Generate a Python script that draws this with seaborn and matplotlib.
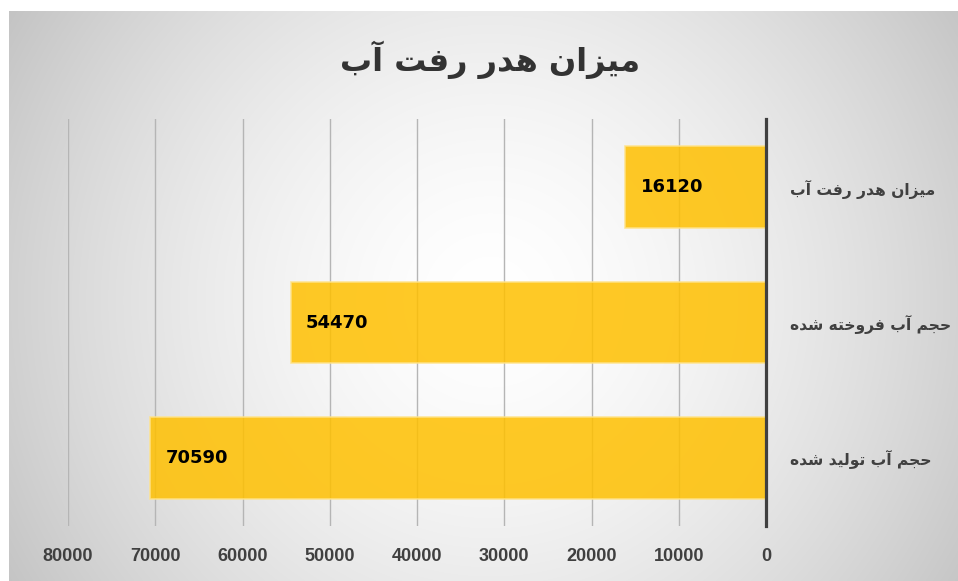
import numpy as np
import pandas as pd
import matplotlib
matplotlib.use("Agg")
import matplotlib.pyplot as plt
import seaborn as sns

# ---- data ----
title_text = "میزان هدر رفت آب"
categories = ["میزان هدر رفت آب", "حجم آب فروخته شده", "حجم آب تولید شده"]
values = [16120, 54470, 70590]
x_ticks = [0, 10000, 20000, 30000, 40000, 50000, 60000, 70000, 80000]

# ---- minimal Persian shaping (matplotlib has no complex text layout) ----
FORMS = {
    '\u0627': ('\uFE8D', '\uFE8E', None, None),
    '\u0622': ('\uFE81', '\uFE82', None, None),
    '\u0628': ('\uFE8F', '\uFE90', '\uFE91', '\uFE92'),
    '\u062A': ('\uFE95', '\uFE96', '\uFE97', '\uFE98'),
    '\u062C': ('\uFE9D', '\uFE9E', '\uFE9F', '\uFEA0'),
    '\u062D': ('\uFEA1', '\uFEA2', '\uFEA3', '\uFEA4'),
    '\u062E': ('\uFEA5', '\uFEA6', '\uFEA7', '\uFEA8'),
    '\u062F': ('\uFEA9', '\uFEAA', None, None),
    '\u0631': ('\uFEAD', '\uFEAE', None, None),
    '\u0632': ('\uFEAF', '\uFEB0', None, None),
    '\u0634': ('\uFEB5', '\uFEB6', '\uFEB7', '\uFEB8'),
    '\u0641': ('\uFED1', '\uFED2', '\uFED3', '\uFED4'),
    '\u0644': ('\uFEDD', '\uFEDE', '\uFEDF', '\uFEE0'),
    '\u0645': ('\uFEE1', '\uFEE2', '\uFEE3', '\uFEE4'),
    '\u0646': ('\uFEE5', '\uFEE6', '\uFEE7', '\uFEE8'),
    '\u0647': ('\uFEE9', '\uFEEA', '\uFEEB', '\uFEEC'),
    '\u0648': ('\uFEED', '\uFEEE', None, None),
    '\u06CC': ('\uFBFC', '\uFBFD', '\uFBFE', '\uFBFF'),
}


def shape(s):
    out = []
    for i, c in enumerate(s):
        if c not in FORMS:
            out.append(c)
            continue
        prev = s[i - 1] if i > 0 else None
        nxt = s[i + 1] if i + 1 < len(s) else None
        jp = prev in FORMS and FORMS[prev][2] is not None
        jn = FORMS[c][2] is not None and nxt in FORMS
        iso, fin, ini, med = FORMS[c]
        if jp and jn:
            out.append(med)
        elif jp:
            out.append(fin)
        elif jn:
            out.append(ini)
        else:
            out.append(iso)
    return ''.join(out)[::-1]


df = pd.DataFrame({"cat": [shape(c) for c in categories], "value": values})

W, H = 958, 581
fig = plt.figure(figsize=(W / 100, H / 100), dpi=100)

# ---- radial gradient background ----
bg = fig.add_axes([0, 0, 1, 1], zorder=-10)
yy, xx = np.mgrid[0:H, 0:W]
cx, cy = 490, 300
r = np.sqrt((xx - cx) ** 2 + (yy - cy) ** 2) / np.sqrt(480 ** 2 + 300 ** 2)
val = 255 - 60 * np.clip(r, 0, 1) ** 1.6
img = np.stack([val, val, val], axis=-1) / 255.0
img[:11, :, :] = 1.0
img[:, :9, :] = 1.0
bg.imshow(img, extent=[0, W, H, 0], aspect="auto", interpolation="bilinear")
bg.set_xlim(0, W)
bg.set_ylim(H, 0)
bg.axis("off")

# ---- main axes ----
left, right = 68 / W, 766 / W
top, bottom = 1 - 119.25 / H, 1 - 525.75 / H
ax = fig.add_axes([left, bottom, right - left, top - bottom])
ax.patch.set_alpha(0)

sns.barplot(data=df, x="value", y="cat", orient="h", ax=ax, width=0.6,
            color="#FFC000", saturation=1, alpha=0.85,
            edgecolor="#FFE38A", linewidth=1.2, zorder=3)

ax.set_xlim(80000, 0)
ax.set_ylim(2.5, -0.5)
ax.set_xticks(x_ticks)
ax.set_xticklabels([str(t) for t in x_ticks], fontfamily="Liberation Sans",
                   fontweight="bold", fontsize=13, color="#404040")
ax.tick_params(axis="x", length=0, pad=16)
ax.grid(axis="x", color="#B5B5B5", linewidth=1, zorder=0)
ax.grid(axis="y", visible=False)
ax.set_axisbelow(True)
for s in ax.spines.values():
    s.set_visible(False)
ax.axvline(0, color="#404040", linewidth=2.3, zorder=5, clip_on=False)

ax.yaxis.tick_right()
ax.tick_params(axis="y", length=0, pad=17)
for lab in ax.get_yticklabels():
    lab.set_ha("left")
    lab.set_fontweight("bold")
    lab.set_fontsize(11.2)
    lab.set_fontfamily("DejaVu Sans")
    lab.set_color("#404040")
ax.set_xlabel("")
ax.set_ylabel("")

for i, v in enumerate(values):
    ax.annotate(str(v), xy=(v, i), xytext=(11, 0), textcoords="offset points",
                ha="left", va="center", fontsize=13, fontweight="bold",
                color="#000000", zorder=6)

fig.text(490 / W, 1 - 60 / H, shape(title_text), ha="center", va="center",
         fontsize=23, fontweight="bold", color="#333333", fontfamily="DejaVu Sans")

fig.savefig("out.png", dpi=100)
